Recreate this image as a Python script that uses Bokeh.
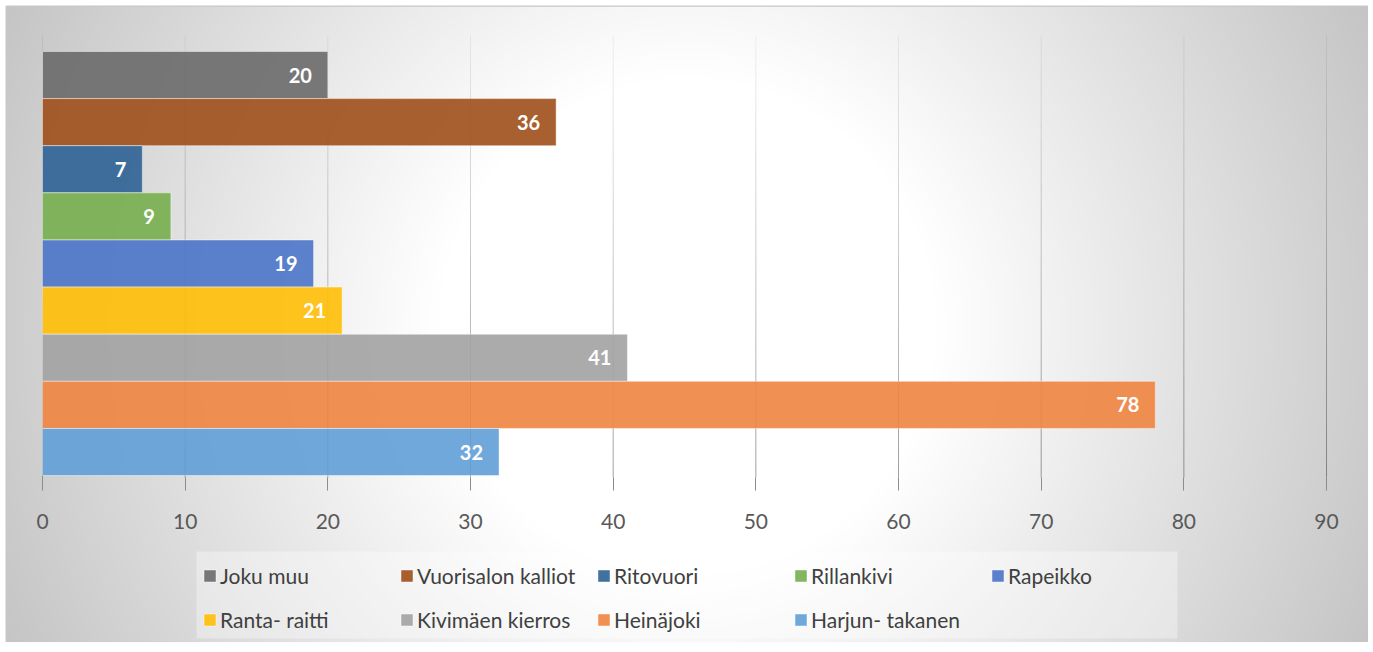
import numpy as np
from bokeh.plotting import figure
from bokeh.models import (Range1d, FixedTicker, Legend, LegendItem, BoxAnnotation,
                          ColumnDataSource)
from bokeh.core.properties import value
from bokeh.embed import file_html
from bokeh.resources import INLINE

# ---------------- data ----------------
categories = ["Joku muu", "Vuorisalon kalliot", "Ritovuori", "Rillankivi", "Rapeikko",
              "Ranta- raitti", "Kivimäen kierros", "Heinäjoki", "Harjun- takanen"]
values = [20, 36, 7, 9, 19, 21, 41, 78, 32]
colors = ["#6a6a6a", "#9f4f1a", "#2f6295", "#75ae4d", "#4b74c8",
          "#ffbe06", "#a2a2a2", "#ee843f", "#629ed7"]
x_ticks = [0, 10, 20, 30, 40, 50, 60, 70, 80, 90]

OFF = 6
FW, FH = 1362, 636          # frame size
n = len(categories)
ypos = [n - i for i in range(n)]  # top category highest

px_per_unit = 14.267
x0_px = 42 - OFF
x_start = -x0_px / px_per_unit
x_end = (FW - x0_px) / px_per_unit
cat_px = 47.125
top_center_px = 74.5 - OFF
y_end = n + top_center_px / cat_px
y_start = n - (FH - top_center_px) / cat_px

def ydata(img_px):
    return n - (img_px - 74.5) / cat_px

p = figure(width=FW + OFF, height=FH + OFF, output_backend="svg", toolbar_location=None,
           x_range=Range1d(x_start, x_end), y_range=Range1d(y_start, y_end),
           min_border=0, min_border_left=OFF, min_border_top=OFF,
           x_axis_location="below")
p.yaxis.visible = False
p.xgrid.visible = False
p.ygrid.visible = False
p.outline_line_color = "#c8c8c8"
p.outline_line_width = 2
p.background_fill_color = "#e6e6e6"
p.border_fill_color = "white"

# radial background gradient
sw, sh = FW // 2, FH // 2
xs = (np.arange(sw) + 0.5) * (FW / sw) + OFF
ys = (np.arange(sh) + 0.5) * (FH / sh) + OFF
XX, YY = np.meshgrid(xs, ys[::-1])
d = np.sqrt((XX - 687) ** 2 + (YY - 326) ** 2)
g = 255 - 59 * np.clip((d - 250) / 510, 0, 1)
g = g.astype(np.uint32)
img = (255 << 24) | (g << 16) | (g << 8) | g
p.image_rgba(image=[img.astype(np.uint32)], x=x_start, y=y_start,
             dw=x_end - x_start, dh=y_end - y_start)

# gridlines with vertical gradient
top_d, bot_d = ydata(35), ydata(477)
N = 30
gx, gy0, gy1, ga = [], [], [], []
for t in x_ticks:
    for k in range(N):
        a0 = top_d + (bot_d - top_d) * k / N
        a1 = top_d + (bot_d - top_d) * (k + 1) / N
        gx.append(t); gy0.append(a0); gy1.append(a1)
        ga.append(0.05 + 0.33 * (k + 0.5) / N)
p.segment(x0=gx, x1=gx, y0=gy0, y1=gy1, line_color="black", line_alpha=ga, line_width=1)

# bars
src = ColumnDataSource(dict(y=ypos, v=values, c=colors, cat=categories,
                            lab=[str(v) for v in values]))
bars = p.hbar(y="y", left=0, right="v", height=1.0, fill_color="c", fill_alpha=0.9,
              line_color="white", line_alpha=0.45, line_width=1, source=src)

p.text(x="v", y="y", text="lab", source=src, x_offset=-16, text_align="right",
       text_baseline="middle", text_color="white", text_font=value("Lato"),
       text_font_style="bold", text_font_size="20px")

# x axis rendered inside the frame
ax = p.xaxis[0]
ax.fixed_location = bot_d
ax.ticker = FixedTicker(ticks=x_ticks)
ax.axis_line_color = None
ax.major_tick_in = 0
ax.major_tick_out = 13
ax.major_tick_line_color = "#8c8c8c"
ax.minor_tick_line_color = None
ax.major_label_text_font = "Lato"
ax.major_label_text_font_size = "21px"
ax.major_label_text_color = "#595959"
ax.major_label_standoff = 23

# legend background box
p.add_layout(BoxAnnotation(left=190, right=1171, bottom=4, top=91,
                           left_units="screen", right_units="screen",
                           bottom_units="screen", top_units="screen",
                           fill_color="white", fill_alpha=0.35, line_color=None, level="overlay"))

ncol = 5
col_x = [196 + 197 * j for j in range(ncol)]
for j in range(ncol):
    idx = list(range(j, n, ncol))
    items = [LegendItem(label=categories[i], renderers=[bars], index=i) for i in idx]
    ybot = 10 if len(idx) == 2 else 54
    lg = Legend(items=items, location=(col_x[j], ybot), orientation="vertical",
                padding=0, margin=0, spacing=18, label_height=26,
                glyph_width=15, glyph_height=15, label_standoff=3,
                label_text_font="Lato", label_text_font_size="21px",
                label_text_color="#404040", background_fill_alpha=0,
                border_line_color=None)
    p.add_layout(lg, "center")

open("out.html", "w").write(file_html(p, INLINE))
